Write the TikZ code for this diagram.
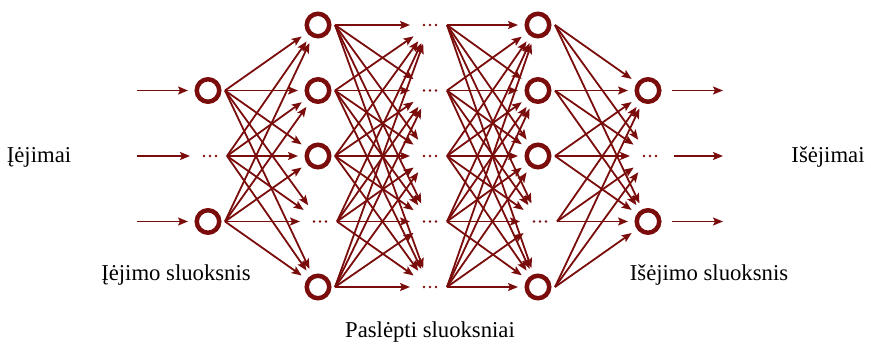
\documentclass[tikz,border=0pt]{standalone}
\usepackage{fontspec}
\setmainfont{Liberation Serif}
\usetikzlibrary{arrows.meta}
\definecolor{netred}{RGB}{122,12,12}

\begin{document}
\begin{tikzpicture}[x=1pt,y=-1pt,
  neuron/.style={draw=netred,circle,line width=4.5pt,minimum size=22.5pt,inner sep=0pt},
  gap/.style={minimum width=18pt,minimum height=6pt,inner sep=0pt,
    path picture={\foreach \d in {-6,0,6} \fill[netred] ([xshift=\d pt]path picture bounding box.center) circle (1.4pt);}},
  link/.style={draw=netred,line width=1.8pt,shorten >=20pt,-{Stealth[length=10pt,width=8pt,inset=2pt]}},
  lbl/.style={font=\fontsize{22.7}{26}\selectfont,anchor=base,inner sep=0pt}]
\useasboundingbox (0,0) rectangle (871,348);

\foreach \r in {2,4} \node[neuron] (in-\r) at (208,{25+65.5*(\r-1)}) {};
\node[gap] (in-3) at (210,156) {};
\foreach \r in {1,2,3,5} {
  \node[neuron] (hA-\r) at (318,{25+65.5*(\r-1)}) {};
  \node[neuron] (hB-\r) at (538,{25+65.5*(\r-1)}) {};
}
\node[gap] (hA-4) at (320,221.5) {};
\node[gap] (hB-4) at (540,221.5) {};
\foreach \r in {1,...,5} \node[gap] (mid-\r) at (430,{25+65.5*(\r-1)}) {};
\foreach \r in {2,4} \node[neuron] (out-\r) at (648,{25+65.5*(\r-1)}) {};
\node[gap] (out-3) at (650,156) {};

\foreach \r in {2,3,4} {
  \coordinate (src-\r) at (137,{25+65.5*(\r-1)});
  \coordinate (dst-\r) at (723,{25+65.5*(\r-1)});
  \draw[link] (src-\r) -- (in-\r.center);
  \draw[link,shorten >=0pt] ([xshift=24pt]out-\r.center) -- (dst-\r);
}

\foreach \i in {2,3,4} \foreach \j in {1,...,5} {
  \draw[link] ([xshift=17pt]in-\i.center) -- (hA-\j.center);
  \draw[link] ([xshift=17pt]hB-\j.center) -- (out-\i.center);
}
\foreach \i in {1,...,5} \foreach \j in {1,...,5} {
  \draw[link] ([xshift=17pt]hA-\i.center) -- (mid-\j.center);
  \draw[link] ([xshift=17pt]mid-\i.center) -- (hB-\j.center);
}

\node[lbl] (inputs) at (39,162) {Įėjimai};
\node[lbl] (outputs) at (828,162) {Išėjimai};
\node[lbl] (inlayer) at (176,280) {Įėjimo sluoksnis};
\node[lbl] (outlayer) at (709,280) {Išėjimo sluoksnis};
\node[lbl] (hidden) at (430,337) {Paslėpti sluoksniai};
\end{tikzpicture}
\end{document}
